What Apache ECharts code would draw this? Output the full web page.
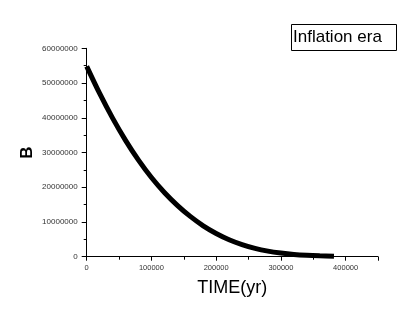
<!DOCTYPE html>
<html lang="en">
<head>
    <meta charset="UTF-8">
    <title>Inflation era</title>
    <script src="https://cdn.jsdelivr.net/npm/echarts@6/dist/echarts.min.js"></script>
</head>
<body style="margin: 0; background: #ffffff;">
    <div id="main" style="width: 418px; height: 323px;"></div>
    <script type="text/javascript">
        // time (yr) and B
        var timeYr = [0, 20000, 40000, 60000, 80000, 100000, 120000, 140000, 160000, 180000,
                      200000, 220000, 240000, 260000, 280000, 300000, 320000, 340000, 360000, 382000];
        var bValues = [54800000, 47000000, 39900000, 33500000, 27800000, 22800000, 18500000, 14800000, 11600000, 8900000,
                       6700000, 4900000, 3500000, 2400000, 1600000, 1050000, 650000, 400000, 250000, 150000];
        var legendText = 'Inflation era';

        var points = [];
        for (var i = 0; i < timeYr.length; i++) {
            points.push([timeYr[i], bValues[i]]);
        }

        var chart = echarts.init(document.getElementById('main'), null, {renderer: 'canvas'});
        var labelFont = 'Liberation Sans, Arial';

        var option = {
            animation: false,
            backgroundColor: '#ffffff',
            title: {
                text: legendText,
                left: 291,
                top: 24,
                padding: [5, 15, 5, 2],
                borderColor: '#000',
                borderWidth: 1,
                textStyle: {fontFamily: labelFont, fontSize: 17, fontWeight: 'normal', color: '#000'}
            },
            grid: {left: 86.7, right: 40, top: 48.3, bottom: 66.3, containLabel: false},
            xAxis: {
                type: 'value',
                min: 0,
                max: 450000,
                interval: 100000,
                name: 'TIME(yr)',
                nameLocation: 'middle',
                nameGap: 22,
                nameMoveOverlap: false,
                nameTextStyle: {fontFamily: labelFont, fontSize: 18, color: '#000'},
                axisLine: {show: true, lineStyle: {color: '#000', width: 1}},
                axisTick: {show: true, inside: false, length: 4, lineStyle: {color: '#000'}},
                minorTick: {show: true, splitNumber: 2, length: 3, lineStyle: {color: '#000'}},
                splitLine: {show: false},
                axisLabel: {
                    margin: 7, fontFamily: labelFont, fontSize: 7.5, color: '#333',
                    formatter: function (v) { return v > 400000 ? '' : String(v); }
                }
            },
            yAxis: {
                type: 'value',
                min: 0,
                max: 60000000,
                interval: 10000000,
                name: 'B',
                nameLocation: 'middle',
                nameRotate: 90,
                nameGap: 51,
                nameMoveOverlap: false,
                nameTextStyle: {fontFamily: labelFont, fontSize: 17, fontWeight: 'bold', color: '#000'},
                axisLine: {show: true, lineStyle: {color: '#000', width: 1}},
                axisTick: {show: true, inside: false, length: 5, lineStyle: {color: '#000'}},
                minorTick: {show: true, splitNumber: 2, length: 3, lineStyle: {color: '#000'}},
                splitLine: {show: false},
                axisLabel: {
                    margin: 9, fontFamily: labelFont, fontSize: 8, color: '#333',
                    formatter: function (v) { return String(v); }
                }
            },
            series: [
                {
                    type: 'line',
                    data: points,
                    smooth: 0.3,
                    showSymbol: false,
                    lineStyle: {color: '#000', width: 5}
                }
            ]
        };
        chart.setOption(option);
    </script>
</body>
</html>
